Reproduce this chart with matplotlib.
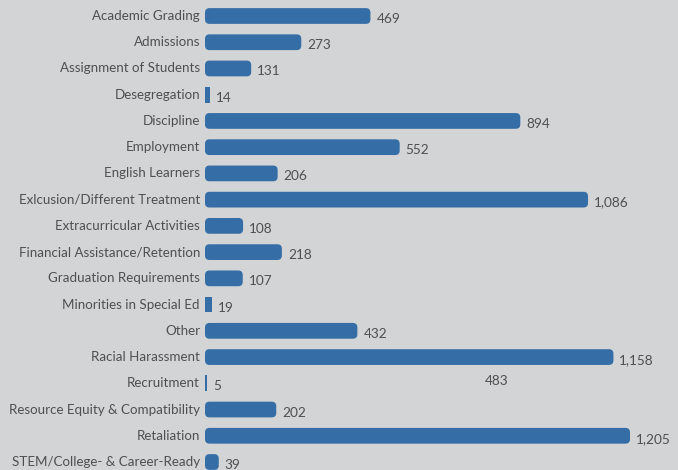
import matplotlib
matplotlib.use("Agg")
import matplotlib.pyplot as plt
from matplotlib.patches import FancyBboxPatch
from matplotlib.transforms import offset_copy

categories = ["Academic Grading", "Admissions", "Assignment of Students", "Desegregation",
              "Discipline", "Employment", "English Learners", "Exlcusion/Different Treatment",
              "Extracurricular Activities", "Financial Assistance/Retention",
              "Graduation Requirements", "Minorities in Special Ed", "Other",
              "Racial Harassment", "Recruitment", "Resource Equity & Compatibility",
              "Retaliation", "STEM/College- & Career-Ready"]
values = [469, 273, 131, 14, 894, 552, 206, 1086, 108, 218, 107, 19, 432, 1158, 5, 202, 1205, 39]
stray_label = "483"
stray_pos = (828, "Recruitment")

BG = "#d3d4d6"
BAR = "#356ea6"
TXT = "#4f4f4f"

plt.rcParams['font.family'] = ['Lato', 'DejaVu Sans']

fig = plt.figure(figsize=(6.78, 4.70), dpi=100, facecolor=BG)
ax = fig.add_axes([205/678, 0, 473/678, 1], facecolor=BG)
n = len(categories)
ax.set_xlim(0, 473/0.3527)
ax.set_ylim(n - 1 + 8/26.24, -16/26.24)
for s in ax.spines.values():
    s.set_visible(False)
ax.set_xticks([])
ax.set_yticks([])

h = 0.6
xpx = 473 / (473/0.3527)
ypx = 470 / ((n - 1 + 8/26.24) + 16/26.24)
r_px = 4.5
for i, v in enumerate(values):
    aspect = (r_px / ypx) / (r_px / xpx)
    if v / 2 < r_px / xpx:
        p = FancyBboxPatch((0, i - h/2), v, h, boxstyle="square,pad=0",
                           facecolor=BAR, edgecolor="none")
    else:
        p = FancyBboxPatch((0, i - h/2), v, h,
                           boxstyle=f"round,pad=0,rounding_size={r_px/xpx}",
                           mutation_aspect=aspect, facecolor=BAR, edgecolor="none")
    ax.add_patch(p)
    ax.text(v, i, f"{v:,}", transform=offset_copy(ax.transData, fig=fig, x=6, y=-3, units='dots'),
            ha='left', va='center', fontsize=9.8, color=TXT)
    ax.text(0, i, categories[i], transform=offset_copy(ax.transData, fig=fig, x=-5, y=0, units='dots'),
            ha='right', va='center', fontsize=9.6, color=TXT, clip_on=False)

ax.text(stray_pos[0], categories.index(stray_pos[1]), stray_label,
        transform=offset_copy(ax.transData, fig=fig, x=0, y=2, units='dots'),
        ha='center', va='center', fontsize=9.8, color=TXT)

fig.savefig("out.png", dpi=100, facecolor=BG)
